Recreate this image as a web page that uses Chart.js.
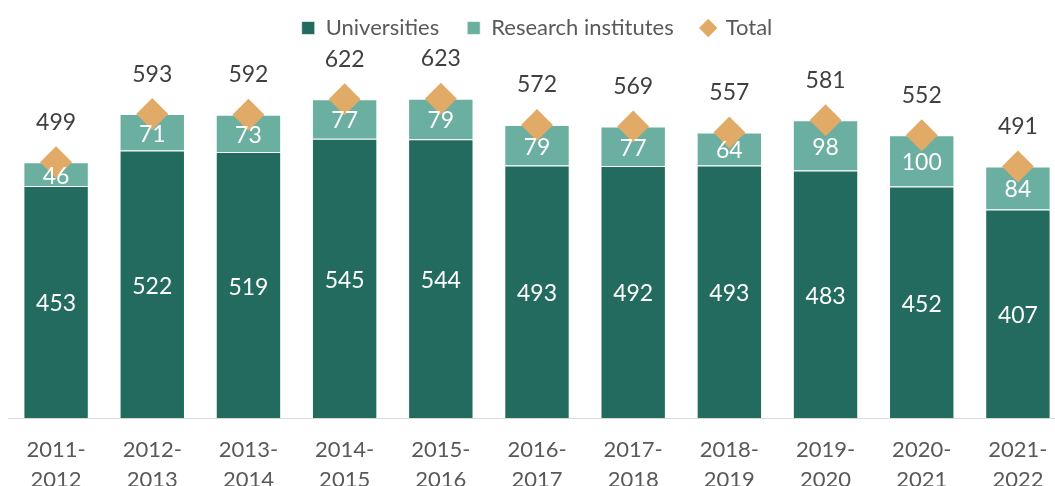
<!DOCTYPE html>
<html>
<head>
<meta charset="utf-8">
<script src="https://cdn.jsdelivr.net/npm/chart.js@4"></script>
<style>
  html, body { margin: 0; padding: 0; background: #fff; overflow: hidden; }
  canvas { display: block; }
</style>
</head>
<body>
<canvas id="chart" width="1072" height="512"></canvas>
<script>
// Daten
const years = [['2011-', '2012'], ['2012-', '2013'], ['2013-', '2014'], ['2014-', '2015'], ['2015-', '2016'], ['2016-', '2017'],
    ['2017-', '2018'], ['2018-', '2019'], ['2019-', '2020'], ['2020-', '2021'], ['2021-', '2022']];
const universities = [453, 522, 519, 545, 544, 493, 492, 493, 483, 452, 407];
const institutes = [46, 71, 73, 77, 79, 79, 77, 64, 98, 100, 84];
const totals = [499, 593, 592, 622, 623, 572, 569, 557, 581, 552, 491];

const fontFamily = "Lato, 'Open Sans', sans-serif";

// Zahlen in die Balken / über die Rauten schreiben
const valueLabels = {
    id: 'valueLabels',
    afterDatasetsDraw(chart) {
        const { ctx } = chart;
        ctx.save();
        ctx.font = '23px ' + fontFamily;
        ctx.textAlign = 'center';
        ctx.textBaseline = 'middle';
        chart.data.datasets.forEach((ds, i) => {
            const meta = chart.getDatasetMeta(i);
            meta.data.forEach((el, j) => {
                if (ds.type === 'line') {
                    ctx.fillStyle = '#404040';
                    ctx.fillText(ds.data[j], el.x, el.y - 40);
                } else {
                    ctx.fillStyle = '#ffffff';
                    ctx.fillText(ds.data[j], el.x, (el.y + el.base) / 2 + 2);
                }
            });
        });
        ctx.restore();
    }
};

new Chart(document.getElementById('chart'), {
    data: {
        labels: years,
        datasets: [{
            type: 'bar',
            label: 'Universities',
            data: universities,
            backgroundColor: '#246B5F',
            borderColor: 'rgba(255, 255, 255, 0.6)',
            borderWidth: 1,
            pointStyle: 'rect',
            stack: 'main',
            order: 1
        }, {
            type: 'bar',
            label: 'Research institutes',
            data: institutes,
            backgroundColor: '#6BAFA0',
            borderColor: 'rgba(255, 255, 255, 0.6)',
            borderWidth: 1,
            pointStyle: 'rect',
            stack: 'main',
            order: 1
        }, {
            type: 'line',
            label: 'Total',
            data: totals,
            showLine: false,
            pointStyle: 'rectRot',
            pointRadius: 16,
            pointHoverRadius: 16,
            backgroundColor: '#E1AB67',
            borderColor: '#E1AB67',
            borderWidth: 0,
            stack: 'total',
            order: 0
        }]
    },
    options: {
        responsive: false,
        animation: false,
        datasets: {
            bar: { categoryPercentage: 0.68, barPercentage: 1 }
        },
        layout: { autoPadding: false, padding: { left: 8, right: 6, top: -11 } },
        plugins: {
            tooltip: { enabled: false },
            legend: {
                position: 'top',
                labels: {
                    usePointStyle: true,
                    boxWidth: 13,
                    boxHeight: 13,
                    padding: 28,
                    color: '#595959',
                    font: { family: fontFamily, size: 22 },
                    sort: (a, b) => a.datasetIndex - b.datasetIndex
                }
            }
        },
        scales: {
            x: {
                stacked: true,
                grid: { display: false, drawTicks: false },
                border: { display: true, color: '#D9D9D9', width: 1 },
                ticks: {
                    padding: 17,
                    color: '#595959',
                    maxRotation: 0,
                    autoSkip: false,
                    font: { family: fontFamily, size: 22, lineHeight: 1.36 }
                }
            },
            y: {
                stacked: true,
                display: false,
                min: 0,
                max: 720
            }
        }
    },
    plugins: [valueLabels]
});
</script>
</body>
</html>
